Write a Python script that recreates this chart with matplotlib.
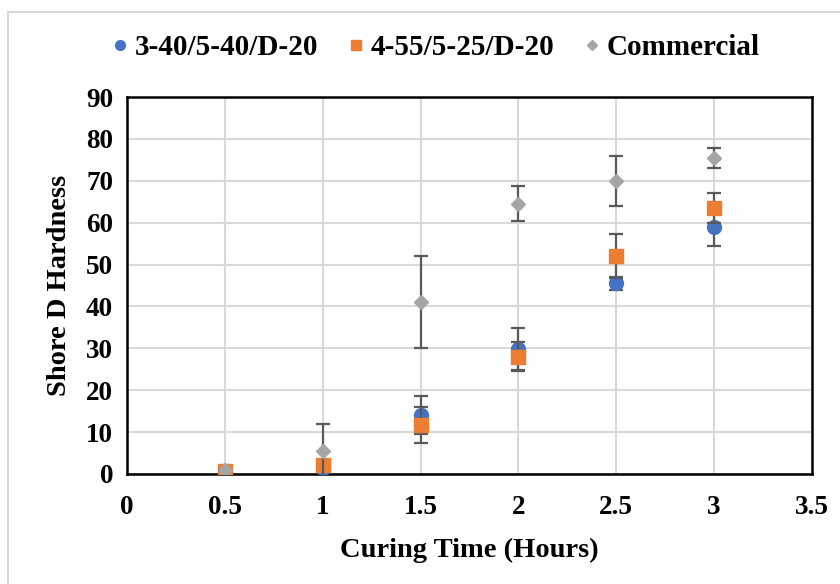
import matplotlib
matplotlib.use('Agg')
import matplotlib.pyplot as plt
from matplotlib.patches import Rectangle

# curing time (hours)
hours = [0.5, 1, 1.5, 2, 2.5, 3]

# Shore D hardness
blue_vals = [0.8, 1.5, 14.1, 29.8, 45.5, 58.9]
blue_err = [0.0, 0.0, 4.5, 5.0, 1.5, 4.5]
orange_vals = [0.8, 2.2, 11.7, 28.0, 52.0, 63.5]
orange_err = [0.0, 0.0, 4.4, 3.4, 5.2, 3.7]
gray_vals = [1.0, 5.5, 41.0, 64.5, 70.0, 75.4]
gray_err = [0.0, 6.5, 11.0, 4.2, 6.0, 2.4]

names = ['3-40/5-40/D-20', '4-55/5-25/D-20', 'Commercial']

plt.rcParams['font.family'] = ['Liberation Serif', 'DejaVu Serif']

fig = plt.figure(figsize=(8.4, 5.84), dpi=100)
ax = fig.add_axes([0.1512, 0.1884, 0.8155, 0.6455])

# light outer frame like the Excel chart area
fig.patches.append(Rectangle((8 / 840, -0.05), 1.0, 1.0 - 12 / 584 + 0.05,
                             transform=fig.transFigure, fill=False,
                             edgecolor='#d9d9d9', linewidth=1.5))

ebar = dict(ecolor='#595959', elinewidth=1.6, capsize=5, capthick=1.6, linestyle='none')
ax.errorbar(hours, blue_vals, yerr=blue_err, marker='o', ms=10, mfc='#4472C4',
            mec='#4472C4', label=names[0], zorder=3, **ebar)
ax.errorbar(hours, orange_vals, yerr=orange_err, marker='s', ms=9.5, mfc='#ED7D31',
            mec='#ED7D31', label=names[1], zorder=4, **ebar)
ax.errorbar(hours, gray_vals, yerr=gray_err, marker='D', ms=7.5, mfc='#A5A5A5',
            mec='#A5A5A5', label=names[2], zorder=5, **ebar)

ax.set_xlim(0, 3.5)
ax.set_ylim(0, 90)
ax.set_xticks([0, 0.5, 1, 1.5, 2, 2.5, 3, 3.5])
ax.set_xticklabels(['0', '0.5', '1', '1.5', '2', '2.5', '3', '3.5'])
ax.set_yticks(range(0, 91, 10))
ax.grid(color='#d9d9d9', linewidth=1.5)
ax.set_axisbelow(True)
for s in ax.spines.values():
    s.set_linewidth(1.8)
    s.set_color('black')
ax.tick_params(length=0, labelsize=19.5)
ax.tick_params(axis='x', pad=15)
ax.tick_params(axis='y', pad=10)
for lab in ax.get_xticklabels() + ax.get_yticklabels():
    lab.set_fontweight('bold')

ax.set_xlabel('Curing Time (Hours)', fontsize=20.5, fontweight='bold', labelpad=13)
ax.set_ylabel('Shore D Hardness', fontsize=20.5, fontweight='bold', labelpad=10)

handles, labels = ax.get_legend_handles_labels()
handles = [h[0] for h in handles]
leg = fig.legend(handles, labels, loc='center', bbox_to_anchor=(0.516, 0.919),
                 ncol=3, frameon=False, prop={'size': 21, 'weight': 'bold'},
                 markerscale=0.7, handletextpad=0.05, columnspacing=0.85,
                 handlelength=0.9)

fig.savefig('out.png', dpi=100)
